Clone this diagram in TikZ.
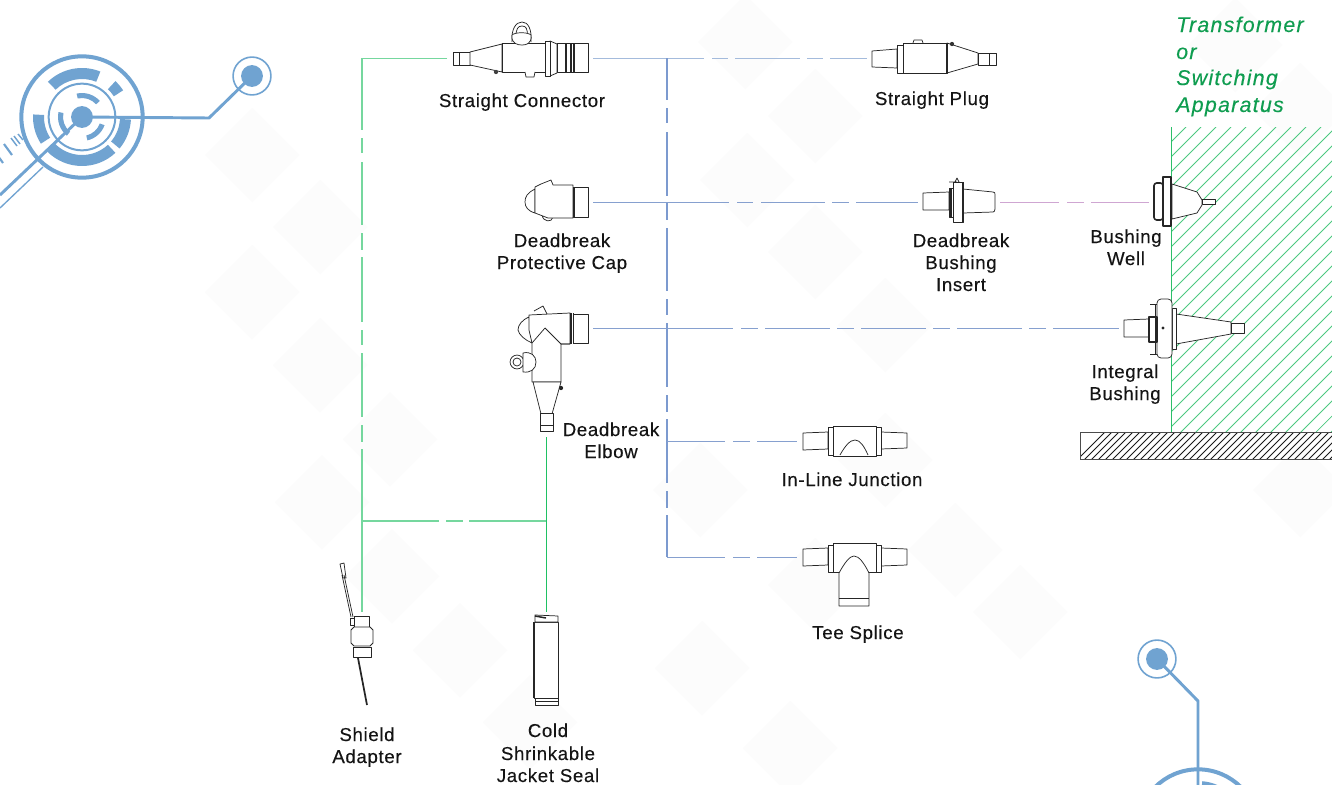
\documentclass[tikz,border=0pt]{standalone}
\usepackage{fontspec}
\setmainfont{Liberation Sans}
\newfontfamily\lblfont[LetterSpace=3.5,FakeBold=0.25]{Liberation Sans}
\newfontfamily\ttlfont[LetterSpace=6,FakeBold=0.3,ItalicFont={Liberation Sans Italic},ItalicFeatures={LetterSpace=6,FakeBold=0.3}]{Liberation Sans}
\definecolor{deco}{HTML}{70A3D1}
\definecolor{bgd}{HTML}{FCFCFC}
\definecolor{bl}{HTML}{86A0CF}
\definecolor{blt}{HTML}{A4BBDC}
\definecolor{blv}{HTML}{7C9ACF}
\definecolor{gr}{HTML}{2CBF6A}
\definecolor{grd}{HTML}{1FC163}
\definecolor{lgr}{HTML}{75D79E}
\definecolor{pk}{HTML}{CFA6D2}
\definecolor{ttl}{HTML}{0F9D50}
\tikzset{
  dev/.style={draw=black!85,line width=0.55pt,line join=round,fill=white},
  devl/.style={draw=black!85,line width=0.55pt,line join=round},
  thick dev/.style={draw=black!85,line width=1.1pt},
  lbl/.style={font=\lblfont\fontsize{14}{16}\selectfont,text=black!92,inner sep=0pt,anchor=base},
  ttlbl/.style={font=\ttlfont\itshape\fontsize{16}{18}\selectfont,text=ttl,inner sep=0pt,anchor=base west},
  cn/.style={line width=0.7pt},
  bgdiam/.style={fill=bgd,draw=none},
  decoline/.style={draw=deco,line width=2.2pt,line join=round}
}
\newcommand{\bgdia}[2]{\fill[bgdiam] (#1-47,#2)--(#1,#2-47)--(#1+47,#2)--(#1,#2+47)--cycle;}
\newcommand{\segm}[6]{\fill[deco,shift={(#1,#2)}] ({#3}:{#5*0.75pt}) arc[start angle=#3,end angle=#4,radius={#5*0.75pt}] -- ({#4}:{#6*0.75pt}) arc[start angle=#4,end angle=#3,radius={#6*0.75pt}] -- cycle;}
\begin{document}
\begin{tikzpicture}[x=0.75pt,y=-0.75pt]
\useasboundingbox (0,0) rectangle (1332,785);
\begin{scope}
\clip (0,0) rectangle (1332,785);
\fill[white] (0,0) rectangle (1332,785);
% background diamonds
\bgdia{252}{155}\bgdia{320}{227}\bgdia{252}{292}\bgdia{320}{365}\bgdia{390}{439}\bgdia{322}{502}
\bgdia{392}{576}\bgdia{460}{650}\bgdia{530}{722}\bgdia{745}{42}\bgdia{815}{116}\bgdia{747}{180}
\bgdia{815}{252}\bgdia{885}{325}\bgdia{700}{490}\bgdia{885}{460}\bgdia{955}{550}\bgdia{1020}{612}
\bgdia{815}{585}\bgdia{702}{668}\bgdia{790}{748}\bgdia{1300}{490}\bgdia{1235}{45}\bgdia{1300}{110}

% decoration: emblem top left
\coordinate (emc) at (82,117);
\coordinate (emk) at (209,118);
\coordinate (emd) at (252,76);
\draw[deco,line width=3pt] (emc) circle[radius=45.5pt];
\draw[deco,line width=1.5pt] (emc) circle[radius=25pt];
\fill[deco] (emc) circle[radius=8.2pt];
\segm{82}{117}{68}{134}{38}{49}
\segm{82}{117}{33}{47}{38}{49}
\segm{82}{117}{-40}{-3}{38}{49}
\segm{82}{117}{-135}{-47}{38}{49}
\segm{82}{117}{177}{213}{38}{49}
\segm{82}{117}{42}{103}{19}{24}
\segm{82}{117}{168}{231}{19}{24}
\segm{82}{117}{-77}{-20}{19}{24}
\draw[decoline] (emc) -- (emk) -- (emd);
\fill[deco] (emd) circle[radius=8.2pt];
\draw[deco,line width=1.2pt] (emd) circle[radius=14.2pt];
\coordinate (dg1) at (0,195);
\coordinate (dg2) at (43,167);
\coordinate (dg3) at (0,208);
\draw[decoline] (emc) -- (dg1);
\draw[deco,line width=1pt] (dg2) -- (dg3);
\draw[deco,line width=1.6pt] (-2,156)--(3,163) (4,144)--(12,155);
\draw[deco,line width=1.1pt] (11,138)--(17,146) (14,136)--(20,144) (18,134)--(23,140);

% decoration: bottom right
\coordinate (ebd) at (1157,659);
\coordinate (ebk) at (1198,701);
\coordinate (ebc) at (1198,830);
\draw[decoline] (ebd) -- (ebk) -- (ebc);
\fill[deco] (ebd) circle[radius=8.2pt];
\draw[deco,line width=1.2pt] (ebd) circle[radius=14.2pt];
\draw[deco,line width=3pt] (ebc) circle[radius=45.5pt];
\segm{1198}{830}{52}{85}{38}{49}

% hatching
\begin{scope}
\clip (1171,127) rectangle (1332,432);
\foreach \k in {0,15,...,480}{\draw[gr!85!white,line width=0.55pt] (1171+\k-310,437)--(1171+\k,127);}
\end{scope}
\draw[gr,line width=0.6pt] (1171,127)--(1171,432);
\begin{scope}
\clip (1080,432) rectangle (1332,459);
\foreach \k in {0,7,...,300}{\draw[black!90,line width=0.65pt] (1075+\k,462)--(1075+\k+32,430);}
\end{scope}
\draw[black!70,line width=0.5pt] (1080,459)--(1080,432)--(1332,432) (1080,459)--(1332,459);

% connection points
\coordinate (jTop) at (362,58);
\coordinate (jBot) at (362,521);
\coordinate (jEl) at (546,521);
\coordinate (sc) at (447,58);
\coordinate (scR) at (593,58);
\coordinate (jB) at (667,58);
\coordinate (jIL) at (667,441);
\coordinate (jTS) at (667,557);
\coordinate (spL) at (867,58);
\coordinate (capR) at (593,202);
\coordinate (bi) at (918,202);
\coordinate (biR) at (1000,202);
\coordinate (bw) at (1149,202);
\coordinate (elR) at (593,328);
\coordinate (ib) at (1119,328);
\coordinate (ilL) at (797,441);
\coordinate (tsL) at (797,557);
\coordinate (elB) at (546,437);
\coordinate (sa) at (362,612);
\coordinate (js) at (546,612);

% connectors
\draw[lgr,line width=0.6pt] (sc) -- (jTop);
\draw[lgr,line width=1.05pt,dash pattern=on 54pt off 6pt on 11.25pt off 6.75pt on 47.25pt off 6pt on 12.75pt off 5.25pt on 48.75pt off 6pt on 11.25pt off 6pt on 48pt off 6pt on 12.75pt off 5.25pt on 150pt off 10pt] (jTop) -- (sa);
\draw[lgr,line width=1pt,dash pattern=on 57.75pt off 5.25pt on 12.75pt off 4.5pt on 60pt off 10pt] (jBot) -- (jEl);
\draw[grd,line width=0.75pt] (elB) -- (js);
\draw[blt,cn,dash pattern=on 83.25pt off 6pt on 12pt off 5.25pt on 48.75pt off 5.25pt on 12pt off 5.25pt on 30pt off 10pt] (scR) -- (spL);
\draw[blv,line width=1.1pt,dash pattern=on 31.5pt off 6pt on 11.25pt off 6.75pt on 48pt off 5.25pt on 12.75pt off 6pt on 47.25pt off 6pt on 12pt off 6pt on 48pt off 6pt on 12.75pt off 5.25pt on 48pt off 6pt on 12.75pt off 5.25pt on 40pt off 10pt] (jB) -- (jTS);
\draw[bl,cn,dash pattern=on 102pt off 6pt on 12pt off 6pt on 48pt off 5.25pt on 12.75pt off 5.25pt on 48pt off 10pt] (capR) -- (bi);
\draw[pk,cn,dash pattern=on 44.25pt off 6pt on 12.75pt off 5.25pt on 44.25pt off 10pt] (biR) -- (bw);
\draw[bl,cn,dash pattern=on 105pt off 6pt on 12.75pt off 5.25pt on 48.75pt off 5.25pt on 12.75pt off 5.25pt on 48.75pt off 5.25pt on 12.75pt off 5.25pt on 48.75pt off 5.25pt on 12.75pt off 5.25pt on 50pt off 10pt] (elR) -- (ib);
\draw[bl,cn,dash pattern=on 43.5pt off 6pt on 12.75pt off 5.25pt on 40pt off 10pt] (jIL) -- (ilL);
\draw[bl,cn,dash pattern=on 43.5pt off 6pt on 12.75pt off 5.25pt on 40pt off 10pt] (jTS) -- (tsL);

% Straight connector
\draw[devl] (512,42) .. controls (511,29) and (516,22) .. (522,22) .. controls (528,22) and (532,29) .. (531,42);
\draw[devl] (516,36) .. controls (516,29) and (518,26) .. (522,26) .. controls (526,26) and (528,29) .. (527,36);
\draw[dev] (453,52) rectangle (470,65);
\draw[devl] (459,52)--(459,65);
\draw[dev] (470,52)--(502,44)--(502,72)--(470,65)--cycle;
\draw[dev] (502,43) rectangle (545,72);
\draw[dev] (525,72)--(526,77)--(534,77)--(535,72);
\fill[black!75] (496,72) circle[radius=1.6pt];
\draw[dev] (512,35) .. controls (511,44) and (518,45) .. (522,45) .. controls (526,45) and (532,44) .. (531,35) .. controls (528,32) and (515,32) .. (512,35) -- cycle;
\draw[dev] (550,41)--(557,44)--(557,73)--(550,76)--cycle;
\draw[dev] (545,41) rectangle (550,76);
\draw[dev] (557,43.5) rectangle (588,72);
\draw[thick dev] (566,43.5)--(566,72) (571,43.5)--(571,72) (574,43.5)--(574,72);

% Straight plug
\draw[dev] (872,51)--(897,49)--(897,68)--(872,67)--cycle;
\draw[dev] (897,45) rectangle (903,73);
\draw[dev] (913,43)--(914,40)--(922,40)--(923,43);
\draw[dev] (903,43) rectangle (947,73);
\draw[dev] (947,43)--(978,53)--(978,64)--(947,73)--cycle;
\draw[dev] (978,53) rectangle (996,65);
\draw[devl] (989,53)--(989,65);
\fill[black!80] (952,44) circle[radius=1.6pt];
\draw[thick dev] (947,43)--(947,73);

% Protective cap
\draw[dev] (535,189) .. controls (527,193) and (525,197) .. (525,202) .. controls (525,207) and (528,211) .. (535,213) -- cycle;
\draw[dev] (542,215) .. controls (543,222) and (552,223) .. (553,217) -- cycle;
\draw[dev] (535,187)--(541,184)--(551,180)--(553,185)--(573,185)--(573,218)--(548,218)--(535,213)--cycle;
\draw[dev] (573,187) rectangle (588,217);
\draw[thick dev] (574,187)--(574,217);

% Deadbreak elbow
\draw[dev] (534,311)--(543,306)--(547,314);
\draw[dev] (529,317) .. controls (522,320) and (518,325) .. (518,330) .. controls (519,335) and (525,340) .. (532,343) -- cycle;
\draw[dev] (529,315)--(570,313)--(570,344)--(561,344)--(561,382)--(532,382)--(532,343)--(529,330)--cycle;
\draw[devl] (532,343)--(545,328)--(561,344)--(570,344);
\draw[dev] (573,314) rectangle (588,343);
\draw[thick dev] (571,313)--(571,344) (573.5,313)--(573.5,344);
\draw[dev] (517,362) circle[radius=5.2pt];
\draw[devl] (517,362) circle[radius=3pt];
\draw[dev] (523,353) .. controls (531,351) and (536,356) .. (536,362) .. controls (536,369) and (531,373) .. (523,372) -- cycle;
\draw[dev] (533,382)--(541,414)--(552,414)--(561,382)--cycle;
\fill[black!85] (561,388) circle[radius=1.6pt];
\draw[dev] (540,413) rectangle (553,431);
\draw[devl] (540,425)--(553,425);

% Bushing insert
\draw[dev] (923,193)--(949,192)--(949,210)--(923,210)--cycle;
\draw[dev] (963,189)--(993,192) .. controls (995,192) and (995,193) .. (995,195) -- (995,209) .. controls (995,211) and (994,212) .. (993,212) -- (963,213)--cycle;
\draw[dev] (949,188) rectangle (953,217);
\draw[dev] (953,182) rectangle (963,222);
\draw[devl] (949,182)--(957,182) (955,182)--(957,178)--(959,182);
\draw[thick dev] (951,188)--(951,217) (963,182)--(963,222);

% Bushing well
\draw[dev] (1172,184)--(1197,192)--(1202,200)--(1202,205)--(1197,213)--(1172,219)--cycle;
\draw[dev] (1202,199) rectangle (1215,204);
\draw[dev,line width=1.2pt,rounded corners=2pt] (1154,183) rectangle (1163,220);
\draw[dev,line width=0.8pt] (1163,177) rectangle (1171,226);

% Integral bushing
\draw[dev] (1176,314)--(1231,322)--(1231,334)--(1176,344)--cycle;
\draw[dev] (1231,323) rectangle (1244,333);
\draw[dev] (1124,320)--(1149,319)--(1149,337)--(1124,337)--cycle;
\draw[dev] (1172,308) rectangle (1176,349);
\draw[dev,rounded corners=3pt] (1157,299)--(1172,299)--(1172,358)--(1157,358)--cycle;
\draw[devl] (1155,304)--(1155,354) (1150,304)--(1157,304) (1150,354)--(1157,354);
\draw[devl,line width=1.1pt] (1149,317)--(1157,317)--(1157,342)--(1149,342)--cycle;
\fill[black!85] (1163,328) circle[radius=1.3pt];

% In-line junction
\draw[dev] (803,433)--(828,432)--(828,449)--(803,450)--cycle;
\draw[dev] (881,432)--(907,433)--(907,448)--(881,449)--cycle;
\draw[dev] (828,427) rectangle (833,455);
\draw[dev] (876,427) rectangle (881,455);
\draw[dev] (833,426) rectangle (876,456);
\draw[devl] (840,455) .. controls (845,446) and (850,440) .. (855,440) .. controls (860,440) and (864,446) .. (868,455);

% Tee splice
\draw[dev] (803,549)--(828,548)--(828,565)--(803,566)--cycle;
\draw[dev] (881,548)--(907,549)--(907,565)--(881,566)--cycle;
\draw[dev] (828,545) rectangle (833,572);
\draw[dev] (876,545) rectangle (881,572);
\draw[dev] (833,543) rectangle (876,572);
\draw[dev] (839,573) .. controls (845,562) and (850,556) .. (854,556) .. controls (859,556) and (864,563) .. (869,573) -- (869,606) -- (839,606) -- cycle;
\draw[devl] (839,598)--(869,598);

% Shield adapter
\draw[devl] (340,564)--(344,563)--(346,578)--(343,578)--cycle;
\draw[devl] (344,575)--(353,617) (342,575)--(351,617);
\draw[dev] (350,618) rectangle (355,625);
\draw[dev] (354,616) rectangle (369,627);
\draw[dev] (351,630)--(354,627)--(370,627)--(373,630)--(373,643)--(370,646)--(354,646)--(351,643)--cycle;
\draw[dev] (353,647) rectangle (371,657);
\draw[black!85,line width=1.3pt] (358,658)--(367,705);

% Jacket seal
\draw[dev] (534,622) rectangle (558,698);
\draw[dev] (535,615)--(558,616)--(558,622)--(535,622)--cycle;
\draw[thick dev] (535,616)--(546,618);
\draw[dev] (535,698)--(558,698)--(558,705)--(535,705)--cycle;
\draw[devl] (535,701)--(558,701);
\draw[thick dev] (534,622)--(534,698);
\end{scope}

% labels
\node[lbl] (lSC) at (522,107) {Straight Connector};
\node[lbl] (lSP) at (932,105) {Straight Plug};
\node[lbl] (lC1) at (562,247) {Deadbreak};
\node[lbl] (lC2) at (562,269) {Protective Cap};
\node[lbl] (lI1) at (961,247) {Deadbreak};
\node[lbl] (lI2) at (961,269) {Bushing};
\node[lbl] (lI3) at (961,291) {Insert};
\node[lbl] (lW1) at (1126,243) {Bushing};
\node[lbl] (lW2) at (1126,265) {Well};
\node[lbl] (lB1) at (1125,378) {Integral};
\node[lbl] (lB2) at (1125,400) {Bushing};
\node[lbl] (lE1) at (611,436) {Deadbreak};
\node[lbl] (lE2) at (611,458) {Elbow};
\node[lbl] (lIL) at (852,486) {In-Line Junction};
\node[lbl] (lTS) at (858,639) {Tee Splice};
\node[lbl] (lA1) at (367,741) {Shield};
\node[lbl] (lA2) at (367,763) {Adapter};
\node[lbl] (lJ1) at (548,737) {Cold};
\node[lbl] (lJ2) at (548,760) {Shrinkable};
\node[lbl] (lJ3) at (548,782) {Jacket Seal};
\node[ttlbl] (t1) at (1176,32) {Transformer};
\node[ttlbl] (t2) at (1176,59) {or};
\node[ttlbl] (t3) at (1176,85) {Switching};
\node[ttlbl] (t4) at (1176,112) {Apparatus};
\end{tikzpicture}
\end{document}
